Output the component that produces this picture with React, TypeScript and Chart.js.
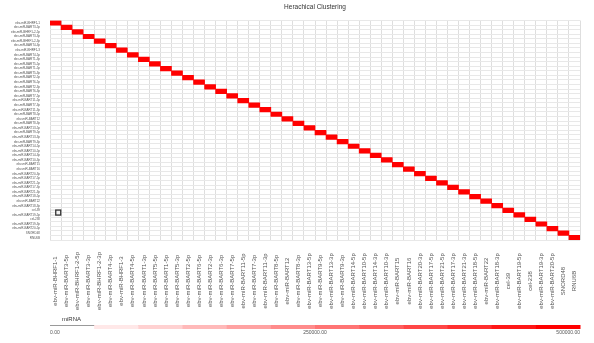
import { useEffect, useRef } from 'react';
import { Chart, registerables } from 'chart.js';

Chart.register(...registerables);

const TITLE = 'Herachical Clustering';
const LEGEND_TITLE = 'miRNA';

// miRNAs in clustered order (same order on both axes)
const mirnas = [
  'ebv-miR-BHRF1-1', 'ebv-miR-BART3-5p', 'ebv-miR-BHRF1-2-5p', 'ebv-miR-BART3-3p',
  'ebv-miR-BHRF1-2-3p', 'ebv-miR-BART4-3p', 'ebv-miR-BHRF1-3', 'ebv-miR-BART4-5p',
  'ebv-miR-BART1-3p', 'ebv-miR-BART5-5p', 'ebv-miR-BART1-5p', 'ebv-miR-BART5-3p',
  'ebv-miR-BART2-5p', 'ebv-miR-BART6-5p', 'ebv-miR-BART2-3p', 'ebv-miR-BART6-3p',
  'ebv-miR-BART7-5p', 'ebv-miR-BART11-5p', 'ebv-miR-BART7-3p', 'ebv-miR-BART11-3p',
  'ebv-miR-BART8-5p', 'ebv-miR-BART12', 'ebv-miR-BART8-3p', 'ebv-miR-BART13-5p',
  'ebv-miR-BART9-5p', 'ebv-miR-BART13-3p', 'ebv-miR-BART9-3p', 'ebv-miR-BART14-5p',
  'ebv-miR-BART10-5p', 'ebv-miR-BART14-3p', 'ebv-miR-BART10-3p', 'ebv-miR-BART15',
  'ebv-miR-BART16', 'ebv-miR-BART20-3p', 'ebv-miR-BART17-5p', 'ebv-miR-BART21-5p',
  'ebv-miR-BART17-3p', 'ebv-miR-BART21-3p', 'ebv-miR-BART18-5p', 'ebv-miR-BART22',
  'ebv-miR-BART18-3p', 'cel-39', 'ebv-miR-BART19-5p', 'cel-238',
  'ebv-miR-BART19-3p', 'ebv-miR-BART20-5p', 'SNORD48', 'RNU6B',
];

// Value of each miRNA against itself (diagonal cells); all other cells are 0
const diagonalValues = [
  500000, 500000, 500000, 500000, 500000, 500000, 500000, 500000,
  500000, 500000, 500000, 500000, 500000, 500000, 500000, 500000,
  500000, 500000, 500000, 500000, 500000, 500000, 500000, 500000,
  500000, 500000, 500000, 500000, 500000, 500000, 500000, 500000,
  500000, 500000, 500000, 500000, 500000, 500000, 500000, 500000,
  500000, 500000, 500000, 500000, 500000, 500000, 500000, 500000,
];

const colorMin = 0;
const colorMax = 500000;
const legendSteps = 12;
const legendTicks = [0, 250000, 500000];
const selectedMirna = 'ebv-miR-BART19-5p';

const FONT = '"Liberation Sans", Arial, sans-serif';

function heatColor(v: number): string {
  const t = Math.max(0, Math.min(1, (v - colorMin) / (colorMax - colorMin)));
  const c = Math.round(255 * (1 - t));
  return `rgb(255,${c},${c})`;
}

const decorations = {
  id: 'heatDecorations',
  afterDraw(chart: any) {
    const { ctx, chartArea } = chart;
    const xs = chart.scales.x;
    const ys = chart.scales.y;
    const left = chartArea.left;
    const right = chartArea.right;
    ctx.save();

    // title, centred over the matrix
    ctx.fillStyle = '#333';
    ctx.font = `6.5px ${FONT}`;
    ctx.textAlign = 'center';
    ctx.textBaseline = 'middle';
    ctx.fillText(TITLE, (left + right) / 2, 7);

    // vertical column labels, centred in the label band
    ctx.fillStyle = '#555';
    ctx.font = `6px ${FONT}`;
    mirnas.forEach((name, i) => {
      const x = xs.getPixelForValue(i);
      ctx.save();
      ctx.translate(x, 281);
      ctx.rotate(-Math.PI / 2);
      ctx.textAlign = 'center';
      ctx.textBaseline = 'middle';
      ctx.fillText(name, 0, 0);
      ctx.restore();
    });

    // selected row marker in the first column
    const row = mirnas.indexOf(selectedMirna);
    const cw = xs.width / mirnas.length;
    const cx = xs.getPixelForValue(0);
    const cy = ys.getPixelForValue(row);
    const sz = 5;
    ctx.strokeStyle = '#cfcfcf';
    ctx.lineWidth = 0.8;
    ctx.strokeRect(cx - cw / 2 + 0.5, cy - sz / 2, cw - 1, sz);
    ctx.fillStyle = '#f2f2f2';
    ctx.fillRect(cx + cw / 2 - sz - 0.3, cy - sz / 2, sz, sz);
    ctx.strokeStyle = '#333';
    ctx.lineWidth = 1.3;
    ctx.strokeRect(cx + cw / 2 - sz - 0.3, cy - sz / 2, sz, sz);

    // colour legend
    ctx.fillStyle = '#333';
    ctx.font = `6px ${FONT}`;
    ctx.textAlign = 'left';
    ctx.textBaseline = 'middle';
    ctx.fillText(LEGEND_TITLE, 62, 319.5);

    const barTop = 325;
    const barH = 4;
    ctx.strokeStyle = '#9a9a9a';
    ctx.lineWidth = 1;
    ctx.beginPath();
    ctx.moveTo(left, barTop + 0.5);
    ctx.lineTo(right, barTop + 0.5);
    ctx.stroke();
    const segW = (right - left) / legendSteps;
    for (let k = 0; k < legendSteps; k++) {
      const v = colorMin + ((colorMax - colorMin) * k) / (legendSteps - 1);
      if (k === 0) continue;
      ctx.fillStyle = heatColor(v);
      ctx.fillRect(left + k * segW, barTop, segW + 0.5, barH);
    }

    ctx.fillStyle = '#555';
    ctx.font = `5px ${FONT}`;
    legendTicks.forEach((v) => {
      const x = left + ((v - colorMin) / (colorMax - colorMin)) * (right - left);
      ctx.textAlign = v === colorMin ? 'left' : v === colorMax ? 'right' : 'center';
      ctx.fillText(v.toFixed(2), x, 333);
    });

    ctx.restore();
  },
};

export default function App() {
  const ref = useRef<HTMLCanvasElement>(null);

  useEffect(() => {
    if (!ref.current) return;
    const chart = new Chart(ref.current, {
      type: 'bar',
      data: {
        labels: mirnas,
        datasets: [
          {
            data: mirnas.map((_, i) => [i, i + 1]) as any,
            backgroundColor: diagonalValues.map((v) => heatColor(v)),
            borderWidth: 0,
            barPercentage: 1,
            categoryPercentage: 1,
          },
        ],
      },
      options: {
        animation: false,
        responsive: false,
        devicePixelRatio: 1,
        layout: { padding: { top: 20.5, right: 14, bottom: 40, left: 0 } },
        plugins: {
          legend: { display: false },
          tooltip: { enabled: false },
          title: { display: false },
        },
        scales: {
          x: {
            type: 'category',
            offset: true,
            grid: { offset: true, color: '#dedede', lineWidth: 1, drawTicks: false },
            border: { display: false },
            ticks: { display: false },
            afterFit: (s: any) => {
              s.height = 63;
            },
          },
          y: {
            type: 'linear',
            min: 0,
            max: mirnas.length,
            reverse: true,
            afterBuildTicks: (s: any) => {
              s.ticks = mirnas.map((_, i) => ({ value: i + 0.5 }));
            },
            afterFit: (s: any) => {
              s.width = 50;
            },
            grid: { offset: true, color: '#e8e8e8', lineWidth: 1, drawTicks: false },
            border: { display: false },
            ticks: {
              autoSkip: false,
              padding: 10,
              color: '#555',
              font: { size: 3, family: FONT },
              callback: (_v: any, i: number) => mirnas[i],
            },
          },
        },
      },
      plugins: [decorations],
    });
    return () => chart.destroy();
  }, []);

  return (
    <div style={{ position: 'fixed', left: 0, top: 0, width: 594, height: 343, background: '#fff' }}>
      <canvas ref={ref} width={594} height={343} style={{ display: 'block' }} />
    </div>
  );
}
